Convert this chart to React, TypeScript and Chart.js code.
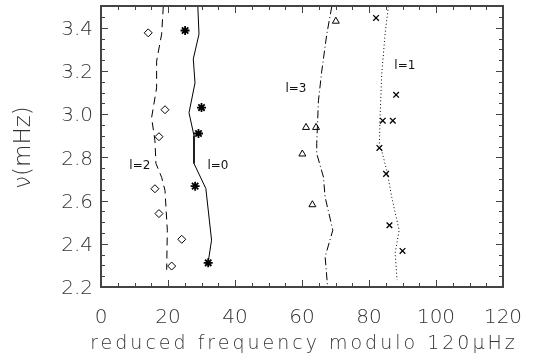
import React, { useEffect, useRef } from 'react';
import { Chart, registerables } from 'chart.js';
Chart.register(...registerables);

// ---- data ----
const xTickValues = [0, 20, 40, 60, 80, 100, 120];
const yTickValues = [2.2, 2.4, 2.6, 2.8, 3.0, 3.2, 3.4];

// observed modes
const l0PointsX = [25.1, 30.0, 29.1, 28.1, 32.0];
const l0PointsY = [3.388, 3.031, 2.911, 2.667, 2.312];
const l1PointsX = [82.1, 88.1, 84.1, 87.1, 83.1, 85.1, 86.1, 90.0];
const l1PointsY = [3.446, 3.09, 2.97, 2.97, 2.844, 2.724, 2.486, 2.367];
const l2PointsX = [14.1, 19.1, 17.3, 16.1, 17.3, 24.1, 21.1];
const l2PointsY = [3.377, 3.021, 2.896, 2.655, 2.54, 2.421, 2.297];
const l3PointsX = [70.1, 61.2, 64.2, 60.1, 63.1];
const l3PointsY = [3.431, 2.939, 2.939, 2.816, 2.581];

// model ridges
const l0CurveX = [28.9, 29.25, 27.55, 28.06, 26.27, 27.76, 27.76, 31.3, 33.0, 32.0];
const l0CurveY = [3.5, 3.371, 3.256, 3.145, 3.007, 2.901, 2.772, 2.656, 2.417, 2.315];
const l1CurveX = [85.8, 84.8, 83.8, 83.3, 83.1, 83.8, 85.5, 86.8, 89.0, 87.8, 88.4];
const l1CurveY = [3.5, 3.371, 3.187, 2.984, 2.864, 2.832, 2.726, 2.615, 2.463, 2.357, 2.232];
const l2CurveX = [18.6, 18.1, 16.6, 16.6, 15.1, 16.1, 16.4, 18.1, 19.1, 19.8, 19.6];
const l2CurveY = [3.5, 3.371, 3.246, 3.122, 2.984, 2.878, 2.772, 2.708, 2.647, 2.463, 2.28];
const l3CurveX = [68.9, 67.4, 65.9, 64.9, 64.4, 64.4, 66.4, 66.9, 69.2, 66.9, 67.6];
const l3CurveY = [3.5, 3.371, 3.2, 3.062, 2.864, 2.818, 2.709, 2.616, 2.463, 2.34, 2.209];

// degree labels (data coordinates)
const degreeLabels = ['l=0', 'l=1', 'l=2', 'l=3'];
const degreeLabelX = [34.9, 90.7, 11.6, 58.2];
const degreeLabelY = [2.762, 3.223, 2.762, 3.117];

const xTitle = 'reduced frequency modulo 120\u03bcHz';
const yTitle = '\u03bd(mHz)';

const FONT = "'DejaVu Sans', 'Liberation Sans', sans-serif";
const TEXT = '#333';
const AXIS = '#444';

const pts = (xs: number[], ys: number[]) => xs.map((x, i) => ({ x, y: ys[i] }));

export default function App() {
  const ref = useRef<HTMLCanvasElement | null>(null);
  useEffect(() => {
    document.body.style.margin = '0';
    const canvas = ref.current;
    if (!canvas) return;

    const framePlugin = {
      id: 'idlFrame',
      afterDraw(chart: any) {
        const ctx = chart.ctx as CanvasRenderingContext2D;
        const area = chart.chartArea;
        const left = Math.round(area.left);
        const right = Math.round(area.right);
        const top = Math.round(area.top);
        const bottom = Math.round(area.bottom);
        const xs = chart.scales.x;
        const ys = chart.scales.y;

        // frame and inward ticks on all four sides
        ctx.save();
        ctx.fillStyle = AXIS;
        ctx.fillRect(left - 1, top - 1, right - left + 2, 2);
        ctx.fillRect(left - 1, bottom - 1, right - left + 2, 2);
        ctx.fillRect(left - 1, top - 1, 2, bottom - top + 2);
        ctx.fillRect(right - 1, top - 1, 2, bottom - top + 2);
        for (let k = 0; k <= 24; k++) {
          const px = Math.round(xs.getPixelForValue(k * 5));
          const len = k % 4 === 0 ? 7 : 4;
          ctx.fillRect(px, bottom - len, 1, len);
          ctx.fillRect(px, top, 1, len);
        }
        for (let k = 0; k <= 26; k++) {
          const py = Math.round(ys.getPixelForValue(2.2 + k * 0.05));
          const len = k % 4 === 0 ? 7 : 4;
          ctx.fillRect(left, py, len, 1);
          ctx.fillRect(right - len, py, len, 1);
        }

        // degree labels
        ctx.fillStyle = '#111';
        ctx.font = `12px ${FONT}`;
        ctx.textAlign = 'center';
        ctx.textBaseline = 'middle';
        degreeLabels.forEach((t, i) => {
          ctx.fillText(t, xs.getPixelForValue(degreeLabelX[i]), ys.getPixelForValue(degreeLabelY[i]));
        });

        // y axis title
        ctx.fillStyle = TEXT;
        ctx.save();
        ctx.translate(24, (top + bottom) / 2 + 1);
        ctx.rotate(-Math.PI / 2);
        ctx.font = `300 23px ${FONT}`;
        ctx.textAlign = 'center';
        ctx.textBaseline = 'middle';
        ctx.fillText(yTitle, 0, 0);
        ctx.restore();

        // x axis title (drawn last, with wide IDL-like spacing)
        ctx.font = `300 19px ${FONT}`;
        (ctx as any).letterSpacing = '3px';
        ctx.textAlign = 'center';
        ctx.textBaseline = 'middle';
        ctx.fillText(xTitle, (left + right) / 2 + 2, bottom + 57);
        (ctx as any).letterSpacing = '0px';
        ctx.restore();
      },
    };

    const lineDs = (xs: number[], ys: number[], dash: number[]) => ({
      type: 'scatter' as const,
      data: pts(xs, ys),
      showLine: true,
      borderColor: '#000',
      borderWidth: 1,
      borderDash: dash,
      pointRadius: 0,
      tension: 0,
      fill: false,
    });
    const ptDs = (xs: number[], ys: number[], style: string, r: number, w: number) => ({
      type: 'scatter' as const,
      data: pts(xs, ys),
      showLine: false,
      pointStyle: style,
      pointRadius: r,
      pointBorderWidth: w,
      pointBorderColor: '#000',
      pointBackgroundColor: 'rgba(0,0,0,0)',
      borderColor: '#000',
      backgroundColor: 'rgba(0,0,0,0)',
    });

    const chart = new Chart(canvas, {
      type: 'scatter',
      data: {
        datasets: [
          lineDs(l0CurveX, l0CurveY, []),
          lineDs(l1CurveX, l1CurveY, [1, 2.5]),
          lineDs(l2CurveX, l2CurveY, [8, 5]),
          lineDs(l3CurveX, l3CurveY, [8, 3, 1, 3]),
          ptDs(l0PointsX, l0PointsY, 'star', 4.5, 1.8),
          ptDs(l1PointsX, l1PointsY, 'crossRot', 4, 1.3),
          ptDs(l2PointsX, l2PointsY, 'rectRot', 4, 1),
          ptDs(l3PointsX, l3PointsY, 'triangle', 4, 1),
        ] as any,
      },
      options: {
        animation: false,
        responsive: false,
        devicePixelRatio: 1,
        layout: { padding: { top: 5, right: 41, left: 0, bottom: 0 } },
        plugins: { legend: { display: false }, tooltip: { enabled: false } },
        scales: {
          x: {
            type: 'linear',
            min: 0,
            max: 120,
            afterBuildTicks: (s: any) => {
              s.ticks = xTickValues.map((v) => ({ value: v }));
            },
            afterFit: (s: any) => {
              s.height = 76;
              s.paddingLeft = 0;
              s.paddingRight = 0;
            },
            grid: { display: false, drawTicks: false },
            border: { display: false },
            ticks: {
              padding: 19,
              color: TEXT,
              font: { family: FONT, size: 20, weight: '300' as any },
              maxRotation: 0,
              callback: (v: any) => String(v),
            },
          },
          y: {
            type: 'linear',
            min: 2.2,
            max: 3.5,
            afterBuildTicks: (s: any) => {
              s.ticks = yTickValues.map((v) => ({ value: v }));
            },
            afterFit: (s: any) => {
              s.width = 101;
              s.paddingTop = 0;
              s.paddingBottom = 0;
            },
            grid: { display: false, drawTicks: false },
            border: { display: false },
            ticks: {
              padding: 8,
              labelOffset: 2,
              color: TEXT,
              font: { family: FONT, size: 20, weight: '300' as any },
              callback: (v: any) => Number(v).toFixed(1),
            },
          },
        },
      },
      plugins: [framePlugin],
    });
    return () => chart.destroy();
  }, []);

  return (
    <div style={{ position: 'fixed', left: 0, top: 0, width: 544, height: 363 }}>
      <canvas ref={ref} width={544} height={363} />
    </div>
  );
}
